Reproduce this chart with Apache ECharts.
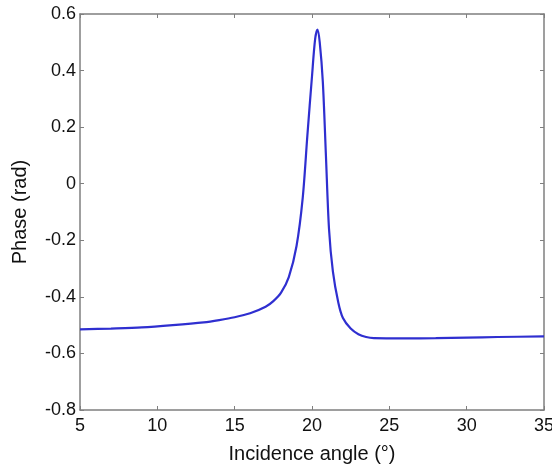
<!DOCTYPE html>
<html>
<head>
<meta charset="utf-8">
<script src="https://cdn.jsdelivr.net/npm/echarts@6/dist/echarts.min.js"></script>
<style>
  html, body { margin: 0; padding: 0; background: #fff; }
  #chart { width: 552px; height: 470px; }
</style>
</head>
<body>
<div id="chart"></div>
<script>
// 입사각에 따른 위상 곡선 (그림에서 읽어낸 값)
const angle = [5, 7, 9, 11, 13, 14, 15, 16, 17, 17.5, 18, 18.5, 19, 19.4, 19.7, 20.0, 20.2, 20.35,
  20.5, 20.7, 20.9, 21.1, 21.35, 21.7, 22.0, 22.5, 23.0, 23.5, 24.0, 26, 28, 30, 32, 35];
const phase = [-0.515, -0.512, -0.508, -0.500, -0.490, -0.482, -0.472, -0.458, -0.435, -0.415, -0.385,
  -0.33, -0.22, -0.05, 0.17, 0.38, 0.51, 0.545, 0.50, 0.36, 0.10, -0.16, -0.31, -0.42, -0.475, -0.512,
  -0.532, -0.542, -0.546, -0.547, -0.546, -0.544, -0.542, -0.540];
const xTicks = [5, 10, 15, 20, 25, 30, 35];
const yTicks = [-0.8, -0.6, -0.4, -0.2, 0, 0.2, 0.4, 0.6];

const FONT = "Liberation Sans, Arial, sans-serif";
const AXIS_GRAY = "#7f7f7f";

// 네 변 모두 테두리 + 안쪽 눈금 (MATLAB 스타일 박스)
function frameAxis(extra) {
  return Object.assign({
    type: "value",
    axisLine: { show: true, onZero: false, lineStyle: { color: AXIS_GRAY, width: 1.5 } },
    axisTick: { show: true, inside: true, length: 4, lineStyle: { color: AXIS_GRAY } },
    splitLine: { show: false }
  }, extra);
}

const chart = echarts.init(document.getElementById("chart"), null, { renderer: "canvas" });
chart.setOption({
  animation: false,
  backgroundColor: "#fff",
  grid: { left: 80, right: 8, top: 14, bottom: 60, outerBoundsMode: "none", containLabel: false },
  xAxis: [
    frameAxis({
      min: xTicks[0], max: xTicks[xTicks.length - 1], interval: 5,
      name: "Incidence angle (°)", nameLocation: "middle", nameGap: 34,
      nameTextStyle: { color: "#111", fontSize: 20, fontFamily: FONT },
      axisLabel: { color: "#111", fontSize: 18, fontFamily: FONT, margin: 7 }
    }),
    frameAxis({
      position: "top", min: xTicks[0], max: xTicks[xTicks.length - 1], interval: 5,
      axisLabel: { show: false }
    })
  ],
  yAxis: [
    frameAxis({
      min: yTicks[0], max: yTicks[yTicks.length - 1], interval: 0.2,
      name: "Phase (rad)", nameLocation: "middle", nameGap: 50,
      nameTextStyle: { color: "#111", fontSize: 20, fontFamily: FONT },
      axisLabel: {
        color: "#111", fontSize: 18, fontFamily: FONT, margin: 4,
        formatter: (v) => (Math.abs(v) < 1e-9 ? "0" : String(+v.toFixed(1)))
      }
    }),
    frameAxis({
      position: "right", min: yTicks[0], max: yTicks[yTicks.length - 1], interval: 0.2,
      axisLabel: { show: false }
    })
  ],
  series: [{
    type: "line",
    xAxisIndex: 0,
    yAxisIndex: 0,
    data: angle.map((a, i) => [a, phase[i]]),
    smooth: 0.3,
    symbol: "none",
    lineStyle: { color: "#2f2fd0", width: 2.2 }
  }]
});
</script>
</body>
</html>
